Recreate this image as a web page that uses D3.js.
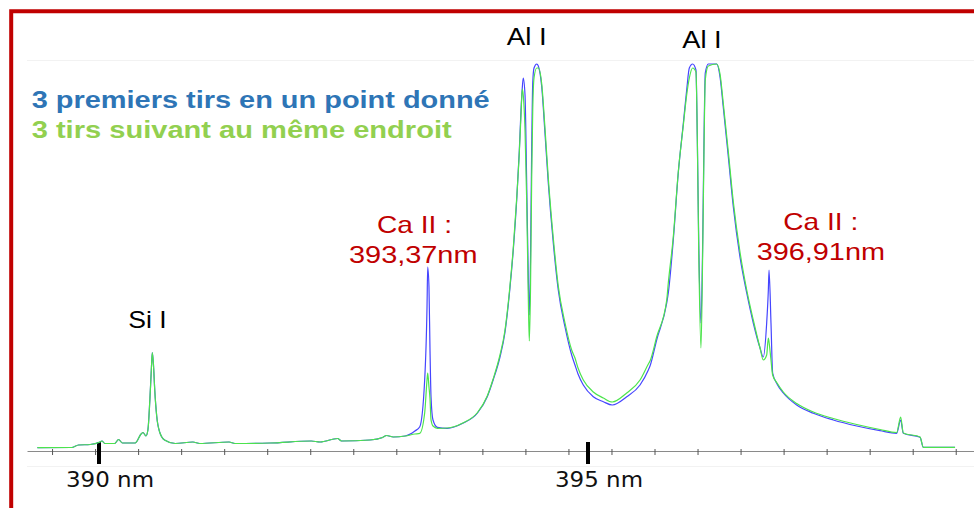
<!DOCTYPE html>
<html>
<head>
<meta charset="utf-8">
<script src="https://cdn.jsdelivr.net/npm/d3@7"></script>
<style>
  body { margin: 0; background: #fff; }
  svg { display: block; }
</style>
</head>
<body>
<div id="chart-area"></div>
<script>
// spectrum, wavelength in nm, intensity in arbitrary units
const wavelength = [
  389.37, 389.72, 389.79, 389.91, 390.01, 390.03, 390.06, 390.16, 390.20, 390.24,
  390.37, 390.43, 390.45, 390.48, 390.50, 390.52, 390.535, 390.545, 390.557, 390.57,
  390.59, 390.62, 390.67, 390.78, 390.96, 391.03, 391.33, 391.39, 391.75, 392.17,
  392.26, 392.44, 392.48, 392.77, 392.90, 392.94, 393.01, 393.13, 393.23, 393.28,
  393.33, 393.354, 393.361, 393.374, 393.384, 393.395, 393.415, 393.46, 393.56, 393.72,
  393.87, 393.97, 394.03, 394.10, 394.15, 394.20, 394.236, 394.271, 394.298, 394.315,
  394.328, 394.338, 394.356, 394.373, 394.390, 394.400, 394.412, 394.424, 394.435, 394.448,
  394.476, 394.492, 394.527, 394.560, 394.594, 394.645, 394.696, 394.765, 394.833, 394.867,
  394.898, 394.952, 395.054, 395.157, 395.248, 395.396, 395.532, 395.617, 395.634, 395.702,
  395.805, 395.821, 395.872, 395.923, 395.975, 396.009, 396.036, 396.070, 396.104, 396.118,
  396.132, 396.155, 396.173, 396.186, 396.199, 396.230, 396.316, 396.350, 396.383, 396.435,
  396.486, 396.554, 396.623, 396.690, 396.759, 396.792, 396.827, 396.844, 396.851, 396.871,
  396.888, 396.933, 396.997, 397.134, 397.304, 397.508, 397.748, 397.986, 398.156, 398.197,
  398.224, 398.395, 398.429, 398.753
]
// 3 premiers tirs (blue)
const firstShots = [
  1.3, 1.5, 4, 4.5, 7, 8, 5.5, 5.5, 9.5, 6,
  6, 15, 16.5, 13, 19, 49, 79, 96.5, 84, 59,
  33, 17, 9, 5.5, 7, 5.5, 7, 5.5, 6, 8,
  7, 10.5, 8, 9, 11.5, 13.5, 12, 13, 18, 22.3,
  69, 142, 182, 162, 102, 52, 29, 21.7, 20.7, 25.7,
  36, 52.3, 69, 92, 116, 159, 199, 249, 299, 339,
  361, 371, 354, 266, 169, 134, 189, 299, 366, 381,
  385, 383, 362, 316, 266, 206, 159, 122, 94, 84,
  75, 64, 52.3, 47.3, 44, 52.3, 64, 79, 83, 109,
  146, 156, 209, 276, 326, 359, 381, 385, 379, 309,
  209, 126, 209, 309, 376, 385, 385, 372, 342, 292,
  242, 192, 156, 126, 101, 92, 126, 159, 179, 126,
  76, 65, 56, 44, 35.7, 29, 23, 18.3, 15.7, 29,
  15.7, 11.7, 1.7, 1.7
]
// 3 tirs suivants (green)
const nextShots = [
  1.3, 1.5, 4, 4.5, 7, 8, 5.5, 5.5, 9.5, 6,
  6, 15, 16.5, 13, 19, 49, 79, 96.5, 84, 59,
  33, 17, 9, 5.5, 7, 5.5, 7, 5.5, 6, 8,
  7, 10.5, 8, 9, 11.5, 13.5, 12, 13, 15, 15.7,
  36, 69, 76, 62, 51, 29, 23, 20.7, 21, 26,
  36.5, 53, 70, 94, 118, 161, 201, 251, 297, 334,
  360, 354, 319, 249, 149, 108, 159, 269, 339, 371,
  381, 381, 365, 321, 271, 211, 163, 126, 99, 91,
  81, 69, 57, 51, 47, 56, 69, 85, 88, 112,
  149, 166, 212, 277, 324, 354, 371, 381, 377, 309,
  199, 101, 199, 299, 369, 383, 385, 375, 346, 297,
  247, 197, 159, 129, 101, 89, 94, 111, 107, 89,
  74, 66, 57, 45.5, 37, 30.5, 24.5, 19.5, 16.5, 32,
  16, 12, 1.7, 1.7
]

const minorTicks = [
  389.52, 389.96, 390.40, 390.84, 391.28, 391.72, 392.16, 392.60, 393.04, 393.48, 393.92,
  394.36, 394.80, 395.24, 395.68, 396.12, 396.56, 397.00, 397.44, 397.88, 398.32, 398.76
]
const majorTicks = [390, 395]
const majorLabels = ["390 nm", "395 nm"]

const WIDTH = 974
const HEIGHT = 508
const RED = "#c00000"

const svg = d3.select("#chart-area").append("svg")
  .attr("width", WIDTH)
  .attr("height", HEIGHT)

// scales
const x = d3.scaleLinear().domain([390, 395]).range([99, 588])
const y = d3.scaleLinear().domain([0, 400]).range([449, 49])

// red frame (top + left only)
svg.append("path")
  .attr("d", `M11.2,${HEIGHT} L11.2,11.3 L${WIDTH},11.3`)
  .attr("fill", "none")
  .attr("stroke", RED)
  .attr("stroke-width", 4)

// faint guide lines
svg.append("line").attr("x1", 27).attr("x2", WIDTH).attr("y1", 60.5).attr("y2", 60.5)
  .attr("stroke", "#f2f2f2")
svg.append("line").attr("x1", 27).attr("x2", WIDTH).attr("y1", 466.5).attr("y2", 466.5)
  .attr("stroke", "#f2f2f2")

// x axis with minor ticks
const xAxisScale = x.copy().domain([x.invert(27), x.invert(WIDTH)]).range([27, WIDTH])
const xAxis = svg.append("g")
  .attr("transform", "translate(0, 451)")
  .call(d3.axisBottom(xAxisScale).tickValues(minorTicks).tickSizeOuter(0).tickFormat(""))
xAxis.select(".domain").attr("stroke", "#8a8a8a")
xAxis.selectAll(".tick line").attr("y1", -2).attr("y2", 4).attr("stroke", "#555")

// major ticks + labels
svg.selectAll(".major").data(majorTicks).enter().append("rect")
  .attr("class", "major")
  .attr("x", d => x(d) - 2)
  .attr("y", 442)
  .attr("width", 4)
  .attr("height", 22)
  .attr("fill", "#000")

svg.selectAll(".major-label").data(majorTicks).enter().append("text")
  .attr("class", "major-label")
  .attr("x", d => x(d) - 33)
  .attr("y", 487)
  .attr("font-family", "DejaVu Sans")
  .attr("font-size", 21)
  .attr("textLength", 88)
  .attr("lengthAdjust", "spacingAndGlyphs")
  .attr("fill", "#111")
  .text((d, i) => majorLabels[i])

// spectra
const line = d3.line()
  .curve(d3.curveMonotoneX)
  .x(d => x(d[0]))
  .y(d => y(d[1]))

svg.append("path")
  .attr("fill", "none")
  .attr("stroke", "#4545ff")
  .attr("stroke-width", 1.2)
  .attr("stroke-linejoin", "round")
  .attr("d", line(wavelength.map((w, i) => [w, firstShots[i]])))

svg.append("path")
  .attr("fill", "none")
  .attr("stroke", "#4ce44c")
  .attr("stroke-width", 1.2)
  .attr("stroke-linejoin", "round")
  .attr("d", line(wavelength.map((w, i) => [w, nextShots[i]])))

// annotations
const notes = [
  { t: "3 premiers tirs en un point donné", x: 31.7, y: 108.3, len: 458, size: 23, c: "#2e75b6", w: "bold" },
  { t: "3 tirs suivant au même endroit", x: 31.7, y: 138.3, len: 420, size: 23, c: "#92d050", w: "bold" },
  { t: "Al I", x: 506.7, y: 45, len: 40, size: 23, c: "#000", w: "normal" },
  { t: "Al I", x: 682.3, y: 48.3, len: 39.4, size: 23, c: "#000", w: "normal" },
  { t: "Si I", x: 128.3, y: 328.3, len: 38.4, size: 24, c: "#000", w: "normal" },
  { t: "Ca II :", x: 377, y: 233, len: 75, size: 24, c: RED, w: "normal" },
  { t: "393,37nm", x: 349, y: 263, len: 128.5, size: 24, c: RED, w: "normal" },
  { t: "Ca II :", x: 783.3, y: 230, len: 75, size: 24, c: RED, w: "normal" },
  { t: "396,91nm", x: 756.7, y: 259.5, len: 128.3, size: 24, c: RED, w: "normal" }
]

svg.selectAll(".note").data(notes).enter().append("text")
  .attr("class", "note")
  .attr("x", d => d.x)
  .attr("y", d => d.y)
  .attr("font-family", "Liberation Sans, Arial, sans-serif")
  .attr("font-size", d => d.size)
  .attr("font-weight", d => d.w)
  .attr("fill", d => d.c)
  .attr("textLength", d => d.len)
  .attr("lengthAdjust", "spacingAndGlyphs")
  .text(d => d.t)
</script>
</body>
</html>
